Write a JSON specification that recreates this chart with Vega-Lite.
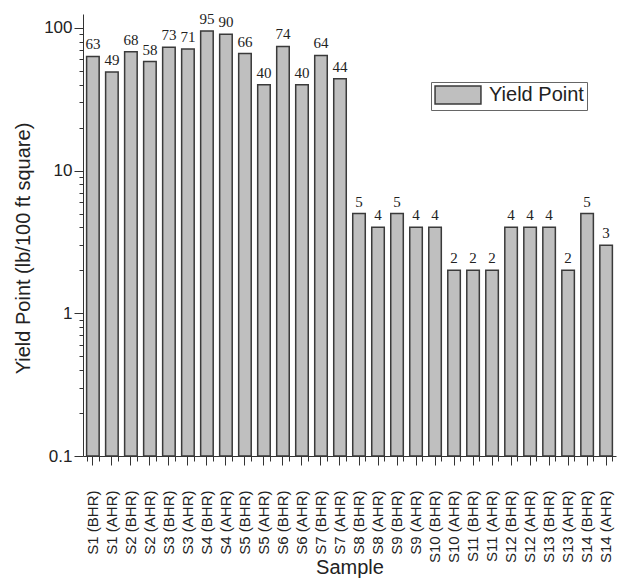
{
  "$schema": "https://vega.github.io/schema/vega-lite/v6.json",
  "width": 533,
  "height": 442,
  "autosize": "none",
  "padding": {"left": 83, "top": 14, "right": 9, "bottom": 122},
  "config": {
    "view": {"stroke": null},
    "font": "Liberation Sans",
    "axis": {
      "domainColor": "#333",
      "tickColor": "#333",
      "labelColor": "#222",
      "titleColor": "#222",
      "labelFont": "Liberation Sans",
      "titleFont": "Liberation Sans",
      "titleFontWeight": "normal",
      "grid": false
    }
  },
  "data": {
    "values": [
      {"sample": "S1 (BHR)", "yp": 63},
      {"sample": "S1 (AHR)", "yp": 49},
      {"sample": "S2 (BHR)", "yp": 68},
      {"sample": "S2 (AHR)", "yp": 58},
      {"sample": "S3 (BHR)", "yp": 73},
      {"sample": "S3 (AHR)", "yp": 71},
      {"sample": "S4 (BHR)", "yp": 95},
      {"sample": "S4 (AHR)", "yp": 90},
      {"sample": "S5 (BHR)", "yp": 66},
      {"sample": "S5 (AHR)", "yp": 40},
      {"sample": "S6 (BHR)", "yp": 74},
      {"sample": "S6 (AHR)", "yp": 40},
      {"sample": "S7 (BHR)", "yp": 64},
      {"sample": "S7 (AHR)", "yp": 44},
      {"sample": "S8 (BHR)", "yp": 5},
      {"sample": "S8 (AHR)", "yp": 4},
      {"sample": "S9 (BHR)", "yp": 5},
      {"sample": "S9 (AHR)", "yp": 4},
      {"sample": "S10 (BHR)", "yp": 4},
      {"sample": "S10 (AHR)", "yp": 2},
      {"sample": "S11 (BHR)", "yp": 2},
      {"sample": "S11 (AHR)", "yp": 2},
      {"sample": "S12 (BHR)", "yp": 4},
      {"sample": "S12 (AHR)", "yp": 4},
      {"sample": "S13 (BHR)", "yp": 4},
      {"sample": "S13 (AHR)", "yp": 2},
      {"sample": "S14 (BHR)", "yp": 5},
      {"sample": "S14 (AHR)", "yp": 3}
    ]
  },
  "layer": [
    {
      "mark": {"type": "bar", "stroke": "#3a3a3a", "strokeWidth": 1.5},
      "encoding": {
        "x": {
          "field": "sample",
          "type": "nominal",
          "sort": null,
          "scale": {"paddingInner": 0.34, "paddingOuter": 0.19},
          "axis": {
            "title": "Sample",
            "labelAngle": -90,
            "labelFontSize": 15,
            "tickSize": 9,
            "labelPadding": 25,
            "titleFontSize": 20,
            "titleY": 117,
            "titleBaseline": "alphabetic"
          }
        },
        "y": {
          "field": "yp",
          "type": "quantitative",
          "scale": {"type": "log", "domain": [0.1, 125], "nice": false},
          "axis": {
            "title": "Yield Point (lb/100 ft square)",
            "titleFontSize": 20,
            "titleX": -60,
            "titleY": 234,
            "titleAlign": "center",
            "titleBaseline": "middle",
            "labelFontSize": 17,
            "labelPadding": 2,
            "labelOverlap": false,
            "labelFlush": false,
            "values": [0.1, 0.2, 0.3, 0.4, 0.5, 0.6, 0.7, 0.8, 0.9, 1, 2, 3, 4, 5, 6, 7, 8, 9, 10, 20, 30, 40, 50, 60, 70, 80, 90, 100],
            "labelExpr": "datum.value == 100 ? '100' : datum.value == 10 ? '10' : datum.value == 1 ? '1' : datum.value == 0.1 ? '0.1' : ''",
            "tickSize": {"condition": {"test": "datum.value == 0.1 || datum.value == 1 || datum.value == 10 || datum.value == 100", "value": 9}, "value": 4}
          }
        },
        "y2": {"datum": 0.1},
        "color": {
          "datum": "Yield Point",
          "scale": {"range": ["#bfbfbf"]},
          "legend": {
            "title": null,
            "orient": "none",
            "legendX": 348,
            "legendY": 68,
            "padding": 3,
            "strokeColor": "#666",
            "fillColor": "white",
            "labelFontSize": 20,
            "labelFont": "Liberation Sans",
            "labelColor": "#222",
            "symbolType": "M-2.55,-1H2.55V1H-2.55Z",
            "symbolSize": 324,
            "symbolStrokeColor": "#3a3a3a",
            "symbolStrokeWidth": 1.5,
            "symbolOpacity": 1,
            "symbolOffset": 14,
            "labelOffset": 21
          }
        }
      }
    },
    {
      "mark": {"type": "text", "baseline": "bottom", "dy": -4, "font": "Liberation Serif", "fontSize": 15, "color": "#222"},
      "encoding": {
        "x": {
          "field": "sample",
          "type": "nominal",
          "sort": null,
          "scale": {"paddingInner": 0.34, "paddingOuter": 0.19},
          "axis": {"orient": "bottom", "offset": 0, "tickBand": "extent", "labels": false, "domain": false, "ticks": true, "tickSize": 5, "tickColor": "#333", "tickWidth": 1, "title": null}
        },
        "y": {"field": "yp", "type": "quantitative"},
        "text": {"field": "yp"}
      }
    }
  ],
  "resolve": {"scale": {"x": "independent"}, "axis": {"x": "independent"}}
}
